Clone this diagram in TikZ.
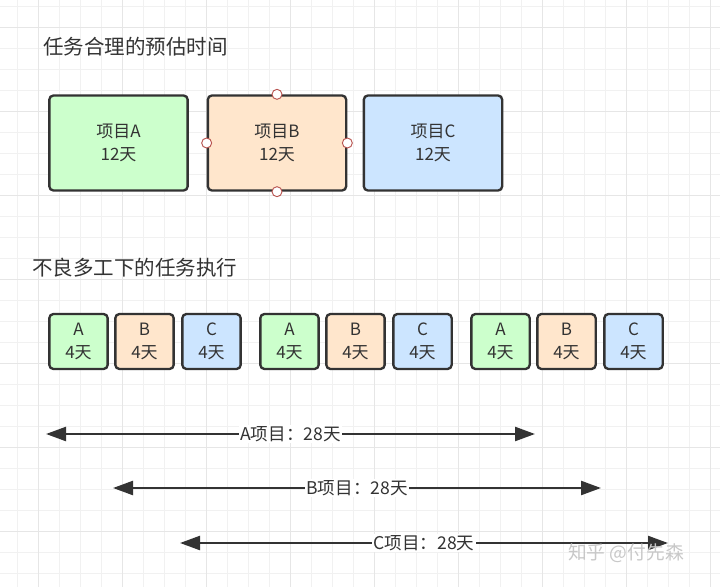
\documentclass[tikz,border=0pt]{standalone}
\usepackage{fontspec}
\setmainfont{Noto Sans CJK SC}
\usetikzlibrary{arrows.meta, positioning}
\definecolor{pgridminor}{HTML}{F1F1F1}
\definecolor{pgridmajor}{HTML}{E6E6E6}
\definecolor{pdark}{HTML}{333333}
\definecolor{pgreen}{HTML}{CCFFCC}
\definecolor{porange}{HTML}{FFE6CC}
\definecolor{pblue}{HTML}{CCE5FF}
\definecolor{phandle}{HTML}{B85450}
\definecolor{pmark}{HTML}{C8C8C8}
\tikzset{
  proj/.style={draw=pdark, line width=2pt, rounded corners=3.5pt,
               minimum width=4.15cm, minimum height=2.85cm, align=center,
               text=pdark, font=\fontsize{14.5}{19}\selectfont},
  slice/.style={draw=pdark, line width=2pt, rounded corners=3.5pt,
                minimum width=1.75cm, minimum height=1.65cm, align=center,
                text=pdark, font=\fontsize{14.5}{19.5}\selectfont},
  span/.style={{Triangle[length=0.6cm,width=0.42cm]}-{Triangle[length=0.6cm,width=0.42cm]},
               line width=2pt, draw=pdark},
  spanlabel/.style={fill=white, inner sep=1pt, text=pdark, font=\fontsize{15}{18}\selectfont},
  handle/.style={circle, draw=phandle, fill=white, line width=0.8pt,
                 minimum size=0.3cm, inner sep=0pt},
  heading/.style={anchor=west, text=pdark, font=\fontsize{17.5}{20}\selectfont}
}
\begin{document}
\begin{tikzpicture}[x=0.03cm, y=-0.03cm]
    \useasboundingbox[fill=white] (0,0) rectangle (720,587);

    % grid
    \foreach \k in {0,...,33} \draw[pgridminor, line width=0.6pt] ({17+21*\k},0) -- ++(0,587);
    \foreach \k in {0,...,27} \draw[pgridminor, line width=0.6pt] (0,{6+21*\k}) -- ++(720,0);
    \foreach \k in {0,...,8} \draw[pgridmajor, line width=0.7pt] ({38+84*\k},0) -- ++(0,587);
    \foreach \k in {0,...,6} \draw[pgridmajor, line width=0.7pt] (0,{27+84*\k}) -- ++(720,0);

    \node[heading] (plan) at (39,47) {任务合理的预估时间};

    \node[proj, fill=pgreen]  (pA) at (118.5,143) {项目A\\12天};
    \node[proj, fill=porange] (pB) at (277,143)   {项目B\\12天};
    \node[proj, fill=pblue]   (pC) at (433,143)   {项目C\\12天};

    \node[handle] (hN) at (pB.north) {};
    \node[handle] (hS) at (pB.south) {};
    \node[handle] (hW) at (pB.west) {};
    \node[handle] (hE) at (pB.east) {};

    \node[heading] (multi) at (28,268) {不良多工下的任务执行};

    \node[slice, fill=pgreen]  (sA1) at (78.5,341.5)  {A\\4天};
    \node[slice, fill=porange] (sB1) at (144.5,341.5) {B\\4天};
    \node[slice, fill=pblue]   (sC1) at (211.5,341.5) {C\\4天};
    \node[slice, fill=pgreen]  (sA2) at (289.5,341.5) {A\\4天};
    \node[slice, fill=porange] (sB2) at (355.5,341.5) {B\\4天};
    \node[slice, fill=pblue]   (sC2) at (422.5,341.5) {C\\4天};
    \node[slice, fill=pgreen]  (sA3) at (500.5,341.5) {A\\4天};
    \node[slice, fill=porange] (sB3) at (566.5,341.5) {B\\4天};
    \node[slice, fill=pblue]   (sC3) at (633.5,341.5) {C\\4天};

    \coordinate (aL) at (46,434);
    \coordinate (aR) at (535,434);
    \coordinate (bL) at (113,488);
    \coordinate (bR) at (601,488);
    \coordinate (cL) at (180,543);
    \coordinate (cR) at (668,543);

    \draw[span] (aL) -- node[spanlabel] (la) {A项目：28天} (aR);
    \draw[span] (bL) -- node[spanlabel] (lb) {B项目：28天} (bR);
    \draw[span] (cL) -- node[spanlabel] (lc) {C项目：28天} (cR);

    \node[anchor=west, text=pmark, font=\fontsize{16}{18}\selectfont] (mark) at (564,553) {知乎 @付先森};
\end{tikzpicture}
\end{document}
